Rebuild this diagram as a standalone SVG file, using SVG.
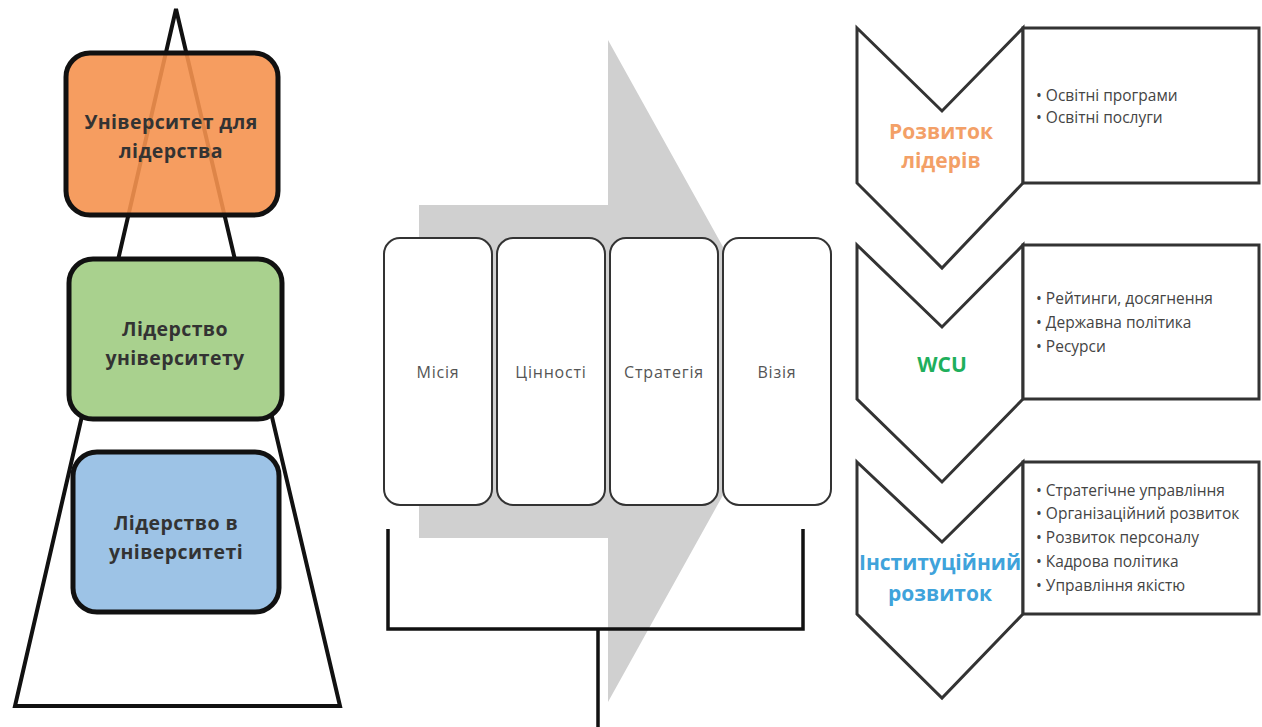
<svg xmlns="http://www.w3.org/2000/svg" width="1262" height="727" viewBox="0 0 1262 727">
<style>
.lvl{stroke:#111;stroke-width:5}
.lt{font-family:"Open Sans","Liberation Sans",sans-serif;font-weight:bold;font-size:19.5px;letter-spacing:0.4px;fill:#333;text-anchor:middle}
.card{fill:#fff;stroke:#333;stroke-width:2}
.ct{font-family:"Open Sans","Liberation Sans",sans-serif;font-size:16px;letter-spacing:0.8px;fill:#555;text-anchor:middle}
.chev{fill:#fff;stroke:#333;stroke-width:3;stroke-linejoin:miter}
.ttl{font-family:"Open Sans","Liberation Sans",sans-serif;font-weight:bold;font-size:21px;text-anchor:middle}
.bt{font-family:"Open Sans","Liberation Sans",sans-serif;font-size:15.5px;fill:#444}
.br{fill:none;stroke:#111;stroke-width:3.5}
</style>
<rect width="1262" height="727" fill="#fff"/>
<g id="pyramid">
<polygon points="176,9 15,706 340,706" fill="none" stroke="#111" stroke-width="4" stroke-linejoin="miter"/>
</g>
<g id="level-top">
<rect x="66" y="53" width="212" height="162" rx="24" class="lvl" fill="#F5924F" fill-opacity="0.9"/>
<text class="lt" x="171" y="129">Університет для</text>
<text class="lt" x="171" y="158">лідерства</text>
</g>
<g id="level-middle">
<rect x="69" y="259" width="213" height="160" rx="24" class="lvl" fill="#A9D18E"/>
<text class="lt" x="175" y="336">Лідерство</text>
<text class="lt" x="175" y="365">університету</text>
</g>
<g id="level-bottom">
<rect x="73" y="452" width="206" height="160" rx="24" class="lvl" fill="#9DC3E6"/>
<text class="lt" x="176" y="530">Лідерство в</text>
<text class="lt" x="176" y="559">університеті</text>
</g>
<g id="arrow">
<polygon points="419,205 608,205 608,40 792,371 608,702 608,538 419,538" fill="#D0D0D0"/>
</g>
<g id="card-mission">
<rect x="384" y="238" width="108" height="267" rx="16" class="card"/>
<text class="ct" x="438" y="378">Місія</text>
</g>
<g id="card-values">
<rect x="497" y="238" width="108" height="267" rx="16" class="card"/>
<text class="ct" x="551" y="378">Цінності</text>
</g>
<g id="card-strategy">
<rect x="610" y="238" width="108" height="267" rx="16" class="card"/>
<text class="ct" x="664" y="378">Стратегія</text>
</g>
<g id="card-vision">
<rect x="723" y="238" width="108" height="267" rx="16" class="card"/>
<text class="ct" x="777" y="378">Візія</text>
</g>
<g id="connectors">
<polyline class="br" points="388,529 388,629 803,629 803,529"/>
<line class="br" x1="598" y1="629" x2="598" y2="727"/>
</g>
<g id="leaders">
<polygon class="chev" points="857,28 942,111 1023,28 1023,183 942,268 857,183"/>
<rect x="1023" y="28" width="236" height="155" fill="#fff" stroke="#333" stroke-width="3"/>
<text class="ttl" x="941" y="139" fill="#F3A067">Розвиток</text>
<text class="ttl" x="941" y="168" fill="#F3A067">лідерів</text>
<text class="bt" x="1036" y="101">• Освітні програми</text>
<text class="bt" x="1036" y="123">• Освітні послуги</text>
</g>
<g id="wcu">
<polygon class="chev" points="857,245 942,327 1023,245 1023,399 942,482 857,399"/>
<rect x="1023" y="245" width="236" height="154" fill="#fff" stroke="#333" stroke-width="3"/>
<text class="ttl" x="942" y="372" fill="#1FAF5C">WCU</text>
<text class="bt" x="1036" y="304">• Рейтинги, досягнення</text>
<text class="bt" x="1036" y="328">• Державна політика</text>
<text class="bt" x="1036" y="352">• Ресурси</text>
</g>
<g id="institutional">
<polygon class="chev" points="857,462 942,542 1023,462 1023,614 942,698 857,614"/>
<rect x="1023" y="462" width="236" height="152" fill="#fff" stroke="#333" stroke-width="3"/>
<text class="ttl" x="940" y="570" fill="#3FA3DB">Інституційний</text>
<text class="ttl" x="940" y="601" fill="#3FA3DB">розвиток</text>
<text class="bt" x="1036" y="496">• Стратегічне управління</text>
<text class="bt" x="1036" y="519">• Організаційний розвиток</text>
<text class="bt" x="1036" y="543">• Розвиток персоналу</text>
<text class="bt" x="1036" y="567">• Кадрова політика</text>
<text class="bt" x="1036" y="591">• Управління якістю</text>
</g>
</svg>
